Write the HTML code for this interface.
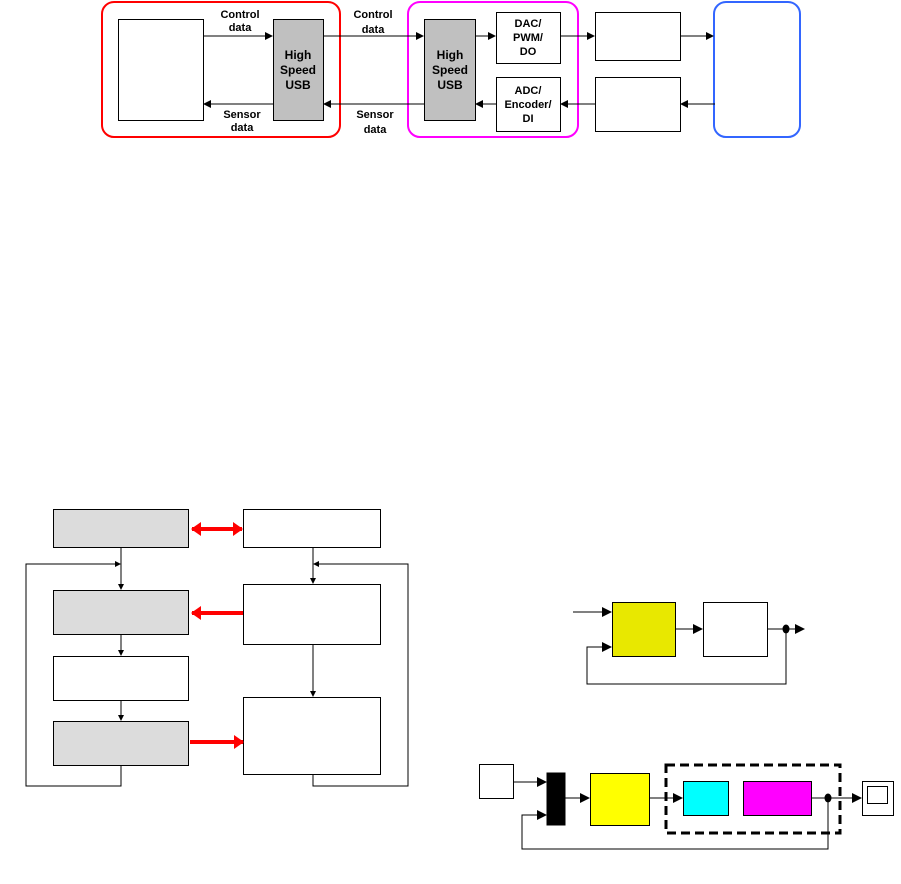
<!DOCTYPE html>
<html><head><style>body{margin:0;background:#fff}svg{display:block}</style></head><body>
<svg width="901" height="884" viewBox="0 0 901 884" xmlns="http://www.w3.org/2000/svg" font-family="Liberation Sans, sans-serif">
<defs>
<marker id="a" markerWidth="8" markerHeight="8" refX="7" refY="4" orient="auto" markerUnits="userSpaceOnUse"><path d="M0,0 L8,4 L0,8z" fill="#000"/></marker>
<marker id="s" markerWidth="6" markerHeight="6" refX="5" refY="3" orient="auto" markerUnits="userSpaceOnUse"><path d="M0,0 L6,3 L0,6z" fill="#000"/></marker>
<marker id="b" markerWidth="10" markerHeight="10" refX="9" refY="5" orient="auto" markerUnits="userSpaceOnUse"><path d="M0,0 L10,5 L0,10z" fill="#000"/></marker>
<marker id="r" markerWidth="10" markerHeight="14" refX="9" refY="7" orient="auto" markerUnits="userSpaceOnUse"><path d="M0,0 L10,7 L0,14z" fill="#f00"/></marker>
<marker id="rs" markerWidth="10" markerHeight="14" refX="1" refY="7" orient="auto" markerUnits="userSpaceOnUse"><path d="M10,0 L0,7 L10,14z" fill="#f00"/></marker>
</defs>
<g stroke="#000" stroke-width="1" fill="none">
<rect x="102" y="2" width="238" height="135" rx="12" stroke="#f00" stroke-width="2"/>
<rect x="408" y="2" width="170" height="135" rx="12" stroke="#f0f" stroke-width="2"/>
<rect x="714" y="2" width="86" height="135" rx="12" stroke="#36f" stroke-width="2"/>
<rect x="118.5" y="19.5" width="85" height="101" fill="#fff"/>
<rect x="273.5" y="19.5" width="50" height="101" fill="#c0c0c0"/>
<rect x="424.5" y="19.5" width="51" height="101" fill="#c0c0c0"/>
<rect x="496.5" y="12.5" width="64" height="51" fill="#fff"/>
<rect x="496.5" y="77.5" width="64" height="54" fill="#fff"/>
<rect x="595.5" y="12.5" width="85" height="48" fill="#fff"/>
<rect x="595.5" y="77.5" width="85" height="54" fill="#fff"/>
<line x1="203" y1="36" x2="272" y2="36" marker-end="url(#a)"/>
<line x1="323" y1="36" x2="423" y2="36" marker-end="url(#a)"/>
<line x1="475" y1="36" x2="495" y2="36" marker-end="url(#a)"/>
<line x1="560" y1="36" x2="594" y2="36" marker-end="url(#a)"/>
<line x1="680" y1="36" x2="713" y2="36" marker-end="url(#a)"/>
<line x1="715" y1="104" x2="681" y2="104" marker-end="url(#a)"/>
<line x1="595" y1="104" x2="561" y2="104" marker-end="url(#a)"/>
<line x1="496" y1="104" x2="476" y2="104" marker-end="url(#a)"/>
<line x1="424" y1="104" x2="324" y2="104" marker-end="url(#a)"/>
<line x1="273" y1="104" x2="204" y2="104" marker-end="url(#a)"/>
</g>
<g font-size="11" font-weight="bold" text-anchor="middle" fill="#000">
<text x="240" y="18">Control</text><text x="240" y="31">data</text>
<text x="373" y="18">Control</text><text x="373" y="33">data</text>
<text x="242" y="118">Sensor</text><text x="242" y="131">data</text>
<text x="375" y="118">Sensor</text><text x="375" y="133">data</text>
<text x="298" y="59" font-size="12">High</text><text x="298" y="74" font-size="12">Speed</text><text x="298" y="89" font-size="12">USB</text>
<text x="450" y="59" font-size="12">High</text><text x="450" y="74" font-size="12">Speed</text><text x="450" y="89" font-size="12">USB</text>
<text x="528" y="27">DAC/</text><text x="528" y="41">PWM/</text><text x="528" y="55">DO</text>
<text x="528" y="94">ADC/</text><text x="528" y="108">Encoder/</text><text x="528" y="122">DI</text>
</g>
<g stroke="#000" stroke-width="1" fill="none">
<rect x="53.5" y="509.5" width="135" height="38" fill="#dcdcdc"/>
<rect x="243.5" y="509.5" width="137" height="38" fill="#fff"/>
<rect x="53.5" y="590.5" width="135" height="44" fill="#dcdcdc"/>
<rect x="243.5" y="584.5" width="137" height="60" fill="#fff"/>
<rect x="53.5" y="656.5" width="135" height="44" fill="#fff"/>
<rect x="53.5" y="721.5" width="135" height="44" fill="#dcdcdc"/>
<rect x="243.5" y="697.5" width="137" height="77" fill="#fff"/>
<line x1="121" y1="547" x2="121" y2="589" marker-end="url(#s)"/>
<polyline points="121,765 121,786 26,786 26,564 120,564" marker-end="url(#s)"/>
<line x1="121" y1="634" x2="121" y2="655" marker-end="url(#s)"/>
<line x1="121" y1="700" x2="121" y2="720" marker-end="url(#s)"/>
<line x1="313" y1="547" x2="313" y2="583" marker-end="url(#s)"/>
<polyline points="313,774 313,786 408,786 408,564 314,564" marker-end="url(#s)"/>
<line x1="313" y1="644" x2="313" y2="696" marker-end="url(#s)"/>
<line x1="192" y1="529" x2="242" y2="529" stroke="#f00" stroke-width="4" marker-start="url(#rs)" marker-end="url(#r)"/>
<line x1="243" y1="613" x2="192" y2="613" stroke="#f00" stroke-width="4" marker-end="url(#r)"/>
<line x1="190" y1="742" x2="243" y2="742" stroke="#f00" stroke-width="4" marker-end="url(#r)"/>
</g>
<g stroke="#000" stroke-width="1" fill="none">
<rect x="612.5" y="602.5" width="63" height="54" fill="#e8e800"/>
<rect x="703.5" y="602.5" width="64" height="54" fill="#fff"/>
<line x1="573" y1="612" x2="611" y2="612" marker-end="url(#b)"/>
<line x1="675" y1="629" x2="702" y2="629" marker-end="url(#b)"/>
<line x1="767" y1="629" x2="804" y2="629" marker-end="url(#b)"/>
<polyline points="786,629 786,684 587,684 587,647 611,647" marker-end="url(#b)"/>
<ellipse cx="786" cy="629" rx="3" ry="4" fill="#000"/>
</g>
<g stroke="#000" stroke-width="1" fill="none">
<rect x="479.5" y="764.5" width="34" height="34" fill="#fff"/>
<rect x="547" y="773" width="18" height="52" fill="#000"/>
<rect x="590.5" y="773.5" width="59" height="52" fill="#ff0"/>
<rect x="666" y="765" width="174" height="68" stroke-width="3" stroke-dasharray="9,5"/>
<rect x="683.5" y="781.5" width="45" height="34" fill="#0ff"/>
<rect x="743.5" y="781.5" width="68" height="34" fill="#f0f"/>
<rect x="862.5" y="781.5" width="31" height="34" fill="#fff"/>
<rect x="867.5" y="786.5" width="20" height="17"/>
<line x1="513" y1="782" x2="546" y2="782" marker-end="url(#b)"/>
<line x1="565" y1="798" x2="589" y2="798" marker-end="url(#b)"/>
<line x1="649" y1="798" x2="682" y2="798" marker-end="url(#b)"/>
<line x1="811" y1="798" x2="861" y2="798" marker-end="url(#b)"/>
<polyline points="828,798 828,849 522,849 522,815 546,815" marker-end="url(#b)"/>
<ellipse cx="828" cy="798" rx="3" ry="4" fill="#000"/>
</g>
</svg>
</body></html>
